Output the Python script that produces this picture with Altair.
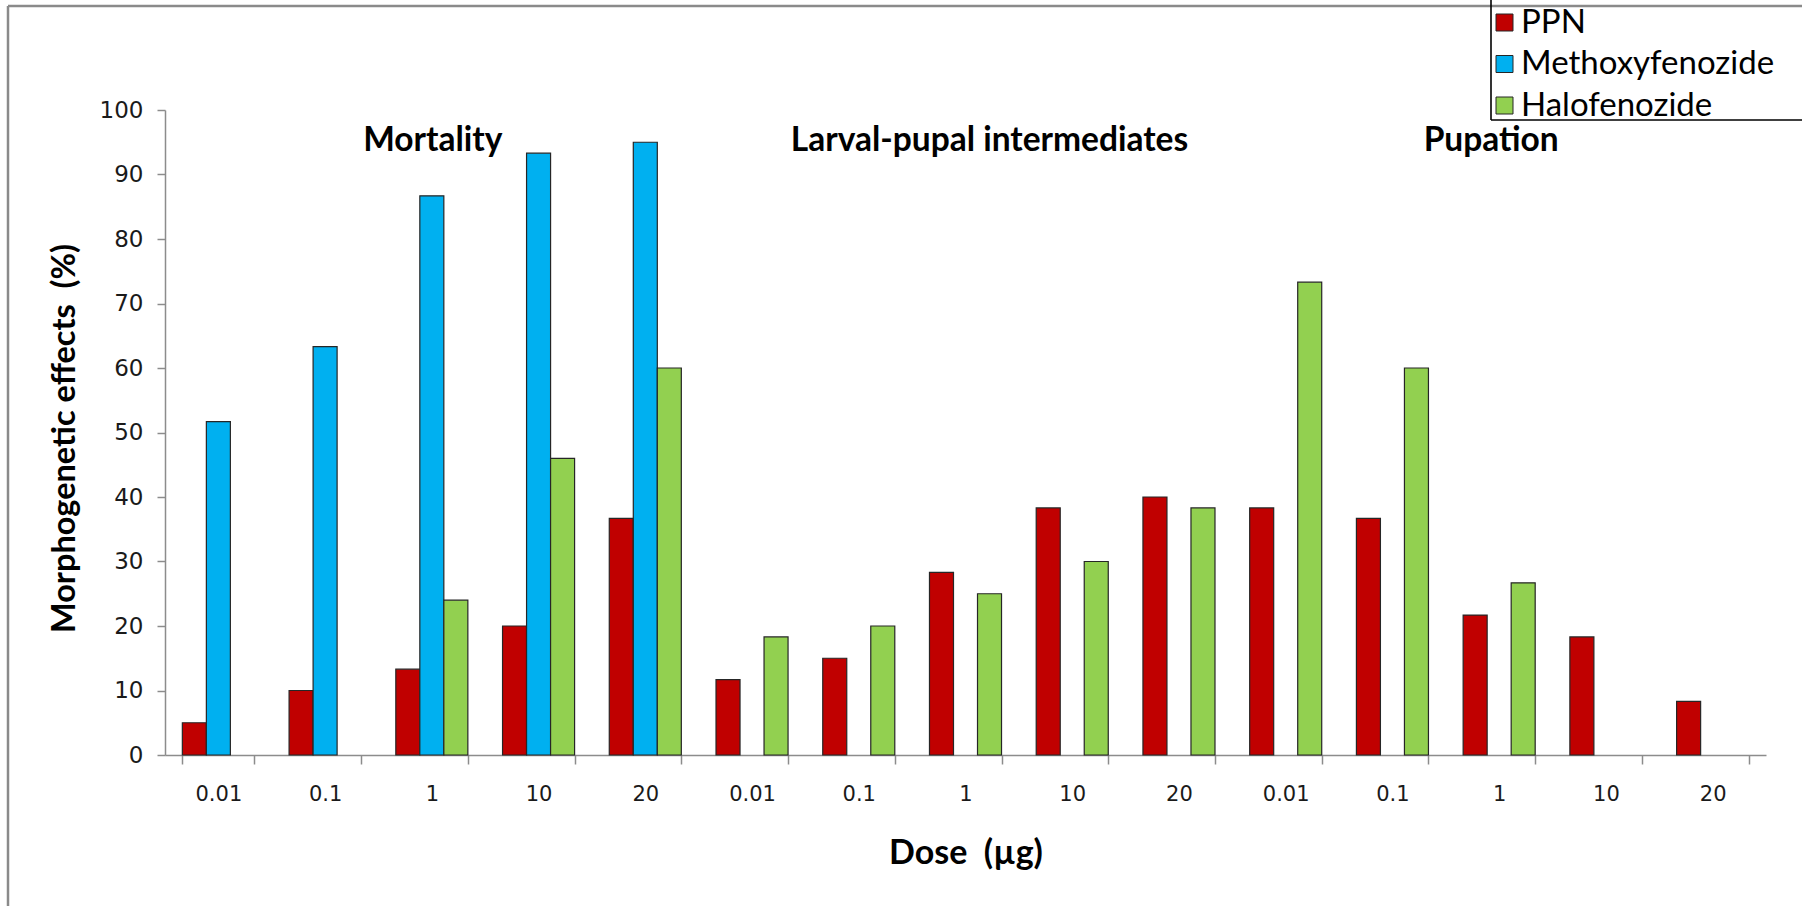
import altair as alt
import pandas as pd

groups = ["Mortality", "Larval-pupal intermediates", "Pupation"]
doses = ["0.01", "0.1", "1", "10", "20"]
series = ["PPN", "Methoxyfenozide", "Halofenozide"]
colors = ["#C00000", "#00B0F0", "#92D050"]

ppn = [5, 10, 13.3, 20, 36.7, 11.7, 15, 28.3, 38.3, 40, 38.3, 36.7, 21.7, 18.3, 8.3]
methoxy = [51.7, 63.3, 86.7, 93.3, 95, None, None, None, None, None, None, None, None, None, None]
halo = [None, None, 24, 46, 60, 18.3, 20, 25, 30, 38.3, 73.3, 60, 26.7, None, None]

keys = [f"{g}|{d}" for g in groups for d in doses]
rows = []
for s, vals in zip(series, [ppn, methoxy, halo]):
    for k, v in zip(keys, vals):
        if v is not None:
            rows.append({"key": k, "series": s, "value": v})
df = pd.DataFrame(rows)

FONT = "Lato"
TICKFONT = "DejaVu Sans"

xscale = alt.Scale(domain=keys, paddingInner=0.325, paddingOuter=0.1625)

bars = alt.Chart(df).mark_bar(stroke="#262626", strokeWidth=1.2).encode(
    x=alt.X("key:N", scale=xscale, sort=keys,
            axis=alt.Axis(title="Dose \u00a0(µg)", labelExpr="split(datum.label, '|')[1]",
                          labelAngle=0, tickBand="extent", tickSize=9, labelPadding=19,
                          labelFont=TICKFONT, labelFontSize=21, labelColor="#1a1a1a",
                          titleFont=FONT, titleFontSize=34, titleFontWeight="bold",
                          titleColor="#000000", titlePadding=32,
                          domainColor="#8c8c8c", tickColor="#8c8c8c",
                          domainWidth=1.5, tickWidth=1.5, grid=False)),
    xOffset=alt.XOffset("series:N", sort=series,
                        scale=alt.Scale(domain=series, paddingInner=0, paddingOuter=0)),
    y=alt.Y("value:Q", scale=alt.Scale(domain=[0, 100]),
            axis=alt.Axis(title="Morphogenetic effects \u00a0(%)", values=list(range(0, 101, 10)),
                          tickSize=8, labelPadding=14, grid=False,
                          labelFont=TICKFONT, labelFontSize=23, labelColor="#1a1a1a",
                          titleFont=FONT, titleFontSize=32.5, titleFontWeight="bold",
                          titleColor="#000000", titlePadding=18, titleY=328,
                          domainColor="#8c8c8c", tickColor="#8c8c8c",
                          domainWidth=1.5, tickWidth=1.5)),
    color=alt.Color("series:N", scale=alt.Scale(domain=series, range=colors),
                    legend=alt.Legend(title=None, orient="none", legendX=1323, legendY=-104,
                                      symbolType="square", symbolSize=289,
                                      symbolStrokeColor="#262626", symbolStrokeWidth=1,
                                      labelFont=FONT, labelFontSize=33, labelColor="#000000",
                                      labelLimit=0, rowPadding=7.5, labelOffset=0, padding=0)),
)

annot_keys = ["Mortality|1", "Larval-pupal intermediates|1", "Pupation|1"]
annot_dx = [1, 24, -8]
layers = [bars]
for g, k, dx in zip(groups, annot_keys, annot_dx):
    t = alt.Chart(pd.DataFrame({"key": [k], "label": [g]})).mark_text(
        font=FONT, fontSize=33.5, fontWeight="bold", color="#000000",
        baseline="alphabetic", align="center", dx=dx
    ).encode(x=alt.X("key:N", scale=xscale, sort=keys), y=alt.value(41), text="label:N")
    layers.append(t)

one = alt.Data(values=[{}])
border_left = alt.Chart(one).mark_rule(color="#8a8a8a", strokeWidth=2.5).encode(
    x=alt.value(-157), y=alt.value(-104), y2=alt.value(800))
border_top = alt.Chart(one).mark_rule(color="#8a8a8a", strokeWidth=2.5).encode(
    x=alt.value(-157), x2=alt.value(1640), y=alt.value(-104))
leg_left = alt.Chart(one).mark_rule(color="#000000", strokeWidth=1.6).encode(
    x=alt.value(1326), y=alt.value(-112), y2=alt.value(10))
leg_bottom = alt.Chart(one).mark_rule(color="#000000", strokeWidth=1.6).encode(
    x=alt.value(1326), x2=alt.value(1640), y=alt.value(10))
layers += [border_left, border_top, leg_left, leg_bottom]

chart = alt.layer(*layers).properties(
    width=1601, height=645,
    autosize=alt.AutoSizeParams(type="none"),
    padding={"left": 165, "top": 110, "right": 36, "bottom": 151},
    background="white",
).configure_view(stroke=None)

chart.save("out.html", embed_options={"renderer": "svg", "actions": False})
